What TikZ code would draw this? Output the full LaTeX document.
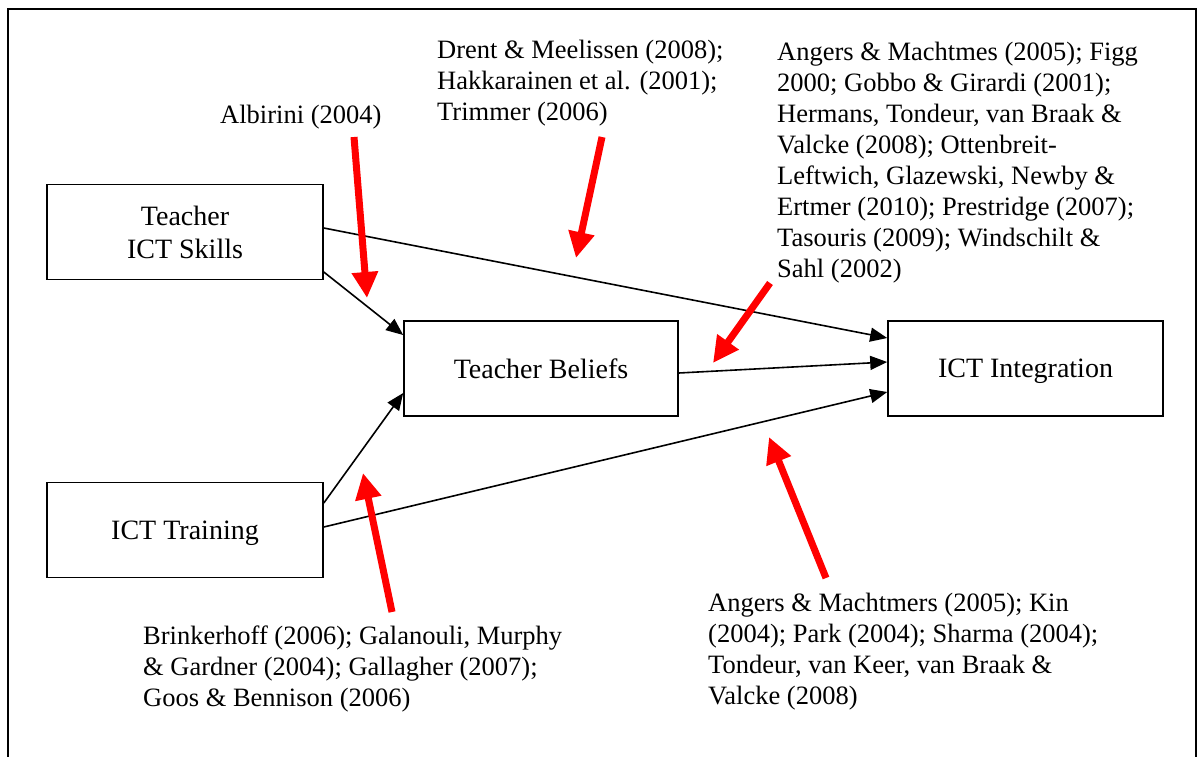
\documentclass[tikz,border=0pt]{standalone}
\usepackage{fontspec}
\setmainfont{Liberation Serif}
\usetikzlibrary{arrows.meta,calc}

\begin{document}
\begin{tikzpicture}[x=1pt,y=-1pt,
  box/.style={draw,line width=1.6pt,minimum width=276pt,minimum height=95pt,align=center,inner sep=0pt,font=\fontsize{28}{33}\selectfont},
  cite/.style={anchor=north west,align=left,inner sep=0pt,font=\fontsize{26.5}{31}\selectfont},
  link/.style={line width=1.6pt,-{Triangle[length=17pt,width=14pt]}},
  hint/.style={red,line width=7pt,-{Triangle[length=26pt,width=25pt]}}]
\useasboundingbox (0,0) rectangle (1201,756);
\draw[line width=2.4pt] (8,9) rectangle (1196,790);
% boxes
\node[box] (skills) at (185,232) {Teacher\\ICT Skills};
\node[box,text depth=0pt] (training) at (185,530) {ICT Training};
\node[box,minimum width=274pt] (beliefs) at (541,368.5) {Teacher Beliefs};
\node[box,minimum width=275pt,text depth=0pt] (integ) at (1025.5,368.5) {ICT Integration};
% citations
\node[cite] (c1) at (220,105) {Albirini (2004)};
\node[cite] (c2) at (437,40) {Drent \& Meelissen (2008);\\Hakkarainen et al. (2001);\\Trimmer (2006)};
\node[cite] (c3) at (777,42) {Angers \& Machtmes (2005); Figg\\2000; Gobbo \& Girardi (2001);\\Hermans, Tondeur, van Braak \&\\Valcke (2008); Ottenbreit-\\Leftwich, Glazewski, Newby \&\\Ertmer (2010); Prestridge (2007);\\Tasouris (2009); Windschilt \&\\Sahl (2002)};
\node[cite] (c4) at (143,626) {Brinkerhoff (2006); Galanouli, Murphy\\\& Gardner (2004); Gallagher (2007);\\Goos \& Bennison (2006)};
\node[cite] (c5) at (708,593) {Angers \& Machtmers (2005); Kin\\(2004); Park (2004); Sharma (2004);\\Tondeur, van Keer, van Braak \&\\Valcke (2008)};
% paths
\draw[link] ($(skills.east)+(0,-4)$) -- ($(integ.west)+(0,-30.5)$);
\draw[link] ($(skills.east)+(0,40)$) -- ($(beliefs.west)+(0,-33.5)$);
\draw[link] ($(training.east)+(0,-27)$) -- ($(beliefs.west)+(0,24.5)$);
\draw[link] ($(training.east)+(0,-3)$) -- ($(integ.west)+(0,23.5)$);
\draw[link] ($(beliefs.east)+(0,4.5)$) -- ($(integ.west)+(0,-6.5)$);
% red pointers
\coordinate (r1a) at (354,137); \coordinate (r1b) at (367,298);
\coordinate (r2a) at (602,137); \coordinate (r2b) at (576,258);
\coordinate (r3a) at (770,283); \coordinate (r3b) at (713,363);
\coordinate (r4a) at (392,612); \coordinate (r4b) at (363,473);
\coordinate (r5a) at (826,578); \coordinate (r5b) at (769,437);
\draw[hint] (r1a) -- (r1b);
\draw[hint] (r2a) -- (r2b);
\draw[hint] (r3a) -- (r3b);
\draw[hint] (r4a) -- (r4b);
\draw[hint] (r5a) -- (r5b);
\end{tikzpicture}
\end{document}
